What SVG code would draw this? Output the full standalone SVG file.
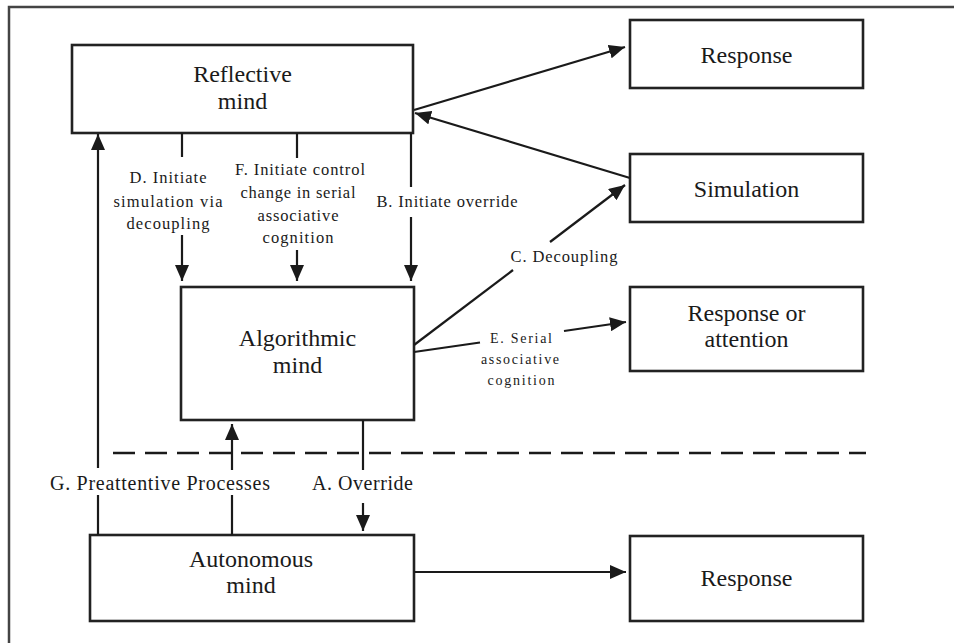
<svg xmlns="http://www.w3.org/2000/svg" width="954" height="643" viewBox="0 0 954 643">
  <style>
    .frame { stroke: #444; stroke-width: 2.5; fill: none; }
    .box { fill: #fff; stroke: #222; stroke-width: 2.6; }
    .link { stroke: #1a1a1a; stroke-width: 2.2; fill: none; }
    .arrow { marker-end: url(#head); }
    .dash { stroke: #1a1a1a; stroke-width: 2.6; stroke-dasharray: 22 10; fill: none; }
    text { font-family: 'Liberation Serif', 'Times New Roman', 'DejaVu Serif', serif; fill: #1a1a1a; text-anchor: middle; }
    .title { font-size: 24px; }
    .lab { font-size: 16.5px; }
    .mid { font-size: 20px; }
    .small { font-size: 14px; }
  </style>
  <defs>
    <marker id="head" markerUnits="userSpaceOnUse" markerWidth="16" markerHeight="14" refX="16" refY="7" orient="auto">
      <path d="M0,0 L16,7 L0,14 z" fill="#1a1a1a"/>
    </marker>
  </defs>

  <rect width="954" height="643" fill="#fff"/>
  <!-- page frame -->
  <path class="frame" d="M9,643 V7 H954"/>

  <!-- boundary between conscious and autonomous levels -->
  <line class="dash" x1="113" y1="453" x2="866" y2="453"/>

  <g id="reflective">
    <rect class="box" x="72" y="45" width="341" height="88"/>
    <text class="title" x="242.5" y="82">Reflective</text>
    <text class="title" x="242.5" y="109">mind</text>
  </g>
  <g id="algorithmic">
    <rect class="box" x="181" y="287" width="233" height="133"/>
    <text class="title" x="297.5" y="346">Algorithmic</text>
    <text class="title" x="297.5" y="373">mind</text>
  </g>
  <g id="autonomous">
    <rect class="box" x="90" y="535" width="324" height="86"/>
    <text class="title" x="251" y="567">Autonomous</text>
    <text class="title" x="251" y="593">mind</text>
  </g>
  <g id="response-top">
    <rect class="box" x="630" y="20" width="233" height="68"/>
    <text class="title" x="746.5" y="63">Response</text>
  </g>
  <g id="simulation">
    <rect class="box" x="630" y="154" width="233" height="68"/>
    <text class="title" x="746.5" y="197">Simulation</text>
  </g>
  <g id="response-attention">
    <rect class="box" x="630" y="287" width="233" height="84"/>
    <text class="title" x="746.5" y="321">Response or</text>
    <text class="title" x="746.5" y="347">attention</text>
  </g>
  <g id="response-bottom">
    <rect class="box" x="630" y="536" width="233" height="85"/>
    <text class="title" x="746.5" y="586">Response</text>
  </g>

  <g id="connectors">
    <!-- reflective mind outputs and simulation feedback -->
    <line class="link arrow" x1="414" y1="110" x2="625" y2="47"/>
    <line class="link arrow" x1="630" y1="178" x2="415" y2="113"/>

    <!-- D. initiate simulation via decoupling -->
    <line class="link" x1="182" y1="133" x2="182" y2="157"/>
    <line class="link arrow" x1="182" y1="235" x2="182" y2="281"/>
    <!-- F. initiate control change -->
    <line class="link" x1="297" y1="133" x2="297" y2="158"/>
    <line class="link arrow" x1="297" y1="250" x2="297" y2="281"/>
    <!-- B. initiate override -->
    <line class="link" x1="411" y1="133" x2="411" y2="187"/>
    <line class="link arrow" x1="411" y1="217" x2="411" y2="281"/>

    <!-- C. decoupling -->
    <line class="link" x1="414" y1="345" x2="513" y2="270"/>
    <line class="link arrow" x1="550" y1="242" x2="625" y2="185"/>
    <!-- E. serial associative cognition -->
    <line class="link" x1="414" y1="352" x2="480" y2="342.5"/>
    <line class="link arrow" x1="564" y1="331" x2="626" y2="322"/>

    <!-- G. preattentive processes -->
    <line class="link" x1="98" y1="535" x2="98" y2="495"/>
    <line class="link arrow" x1="98" y1="468" x2="98" y2="134"/>
    <line class="link" x1="232" y1="535" x2="232" y2="495"/>
    <line class="link arrow" x1="232" y1="470" x2="232" y2="424"/>

    <!-- A. override -->
    <line class="link" x1="363" y1="420" x2="363" y2="470"/>
    <line class="link arrow" x1="363" y1="503" x2="363" y2="531"/>

    <!-- autonomous response -->
    <line class="link arrow" x1="414" y1="572" x2="626" y2="572"/>

    <!-- connector labels -->
    <text class="lab" x="168" y="183" textLength="77" lengthAdjust="spacing">D. Initiate</text>
    <text class="lab" x="168" y="207" textLength="109" lengthAdjust="spacing">simulation via</text>
    <text class="lab" x="168" y="229" textLength="83" lengthAdjust="spacing">decoupling</text>

    <text class="lab" x="300" y="175" textLength="130" lengthAdjust="spacing">F. Initiate control</text>
    <text class="lab" x="298" y="198" textLength="115" lengthAdjust="spacing">change in serial</text>
    <text class="lab" x="298" y="221" textLength="81" lengthAdjust="spacing">associative</text>
    <text class="lab" x="298" y="243" textLength="71" lengthAdjust="spacing">cognition</text>

    <text class="lab" x="447" y="207" textLength="141" lengthAdjust="spacing">B. Initiate override</text>
    <text class="lab" x="564" y="262" textLength="107" lengthAdjust="spacing">C. Decoupling</text>

    <text class="small" x="521" y="343" textLength="62" lengthAdjust="spacing">E. Serial</text>
    <text class="small" x="520" y="364" textLength="78" lengthAdjust="spacing">associative</text>
    <text class="small" x="521" y="385" textLength="67" lengthAdjust="spacing">cognition</text>

    <text class="mid" x="160" y="490" textLength="220" lengthAdjust="spacing">G. Preattentive Processes</text>
    <text class="mid" x="362.5" y="490" textLength="101" lengthAdjust="spacing">A. Override</text>
  </g>
</svg>
